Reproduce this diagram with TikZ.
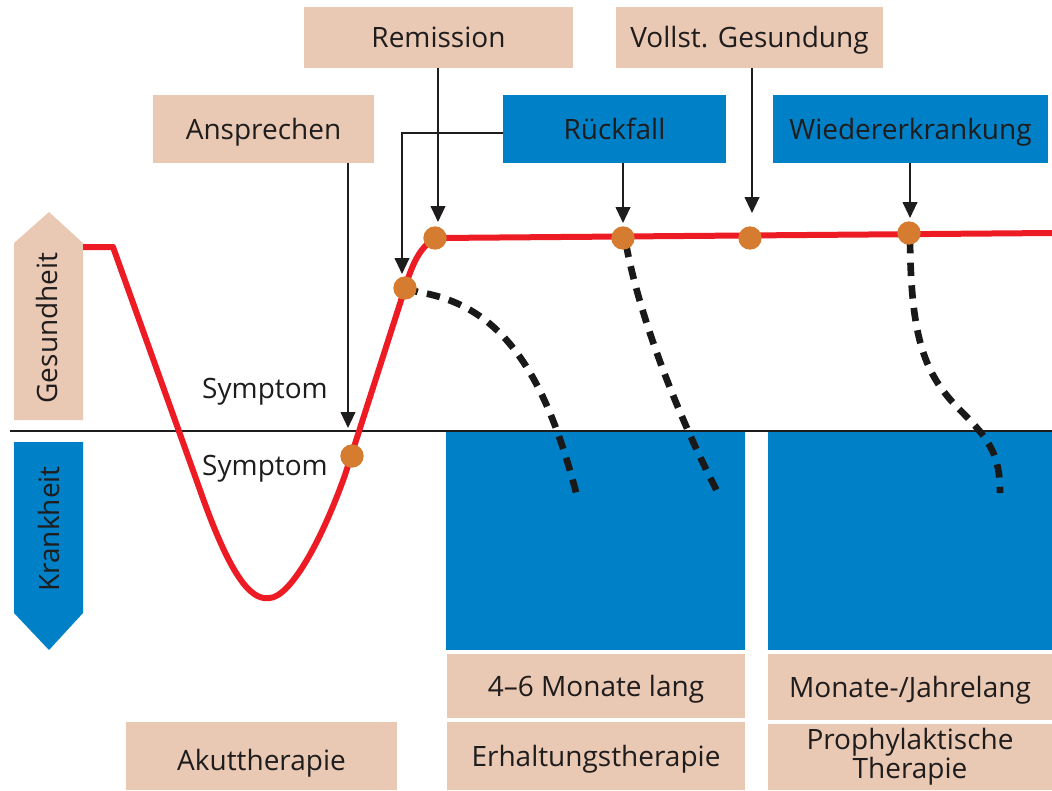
\documentclass[tikz,border=0pt]{standalone}
\usepackage{fontspec}
\setmainfont{Open Sans}
\usetikzlibrary{arrows.meta}
\definecolor{beige}{RGB}{234,201,180}
\definecolor{bblue}{RGB}{0,128,198}
\definecolor{cred}{RGB}{237,28,36}
\definecolor{dotor}{RGB}{214,124,48}
\definecolor{txt}{RGB}{30,28,28}
\tikzset{
  lbl/.style={font=\fontsize{21}{23}\selectfont, text=txt, inner sep=0pt},
  boxtxt/.style={lbl, text height=17.5pt, text depth=2.5pt},
  beigebox/.style={boxtxt, fill=beige, draw=none},
  bluebox/.style={boxtxt, fill=bblue, draw=none},
  arr/.style={draw=txt, line width=1.5pt, -{Triangle[length=12pt,width=11pt]}},
  redline/.style={draw=cred, line width=4.5pt, line join=round},
  dashline/.style={draw=black!90, line width=5pt, dash pattern=on 10pt off 7pt},
  hdot/.style={circle, fill=dotor, minimum size=17.5pt, inner sep=0pt},
}
\begin{document}
\begin{tikzpicture}[x=0.75pt,y=-0.75pt]
\useasboundingbox (0,0) rectangle (1052,790);

% side arrows
\fill[beige] (14,420) -- (14,243) -- (49,212) -- (83,243) -- (83,420) -- cycle;
\fill[bblue] (14,442) -- (83,442) -- (83,613) -- (49,650) -- (14,613) -- cycle;
\node[lbl, rotate=90] (ges) at (47,328) {Gesundheit};
\node[lbl, rotate=90] (kra) at (49,529) {Krankheit};

% blue therapy areas
\fill[bblue] (446,431) rectangle (745,650);
\fill[bblue] (768,431) rectangle (1052,650);

% baseline
\coordinate (bl0) at (10,431);
\coordinate (bl1) at (1052,431);
\draw[txt, line width=1.8pt] (bl0) -- (bl1);

% top boxes
\node[beigebox, minimum width=201.75pt, minimum height=45.75pt] (rem) at (438.5,37.5) {Remission};
\node[beigebox, minimum width=200.25pt, minimum height=45.75pt] (voll) at (749.5,37.5) {Vollst. Gesundung};
\node[beigebox, minimum width=165.75pt, minimum height=51pt] (ansp) at (263.5,129) {Ansprechen};
\node[bluebox, minimum width=167.25pt, minimum height=51pt] (rueck) at (614.5,129) {Rückfall};
\node[bluebox, minimum width=206.25pt, minimum height=51pt] (wied) at (910.5,129) {Wiedererkrankung};

% bottom boxes
\node[beigebox, minimum width=203.25pt, minimum height=51pt] (akut) at (261.5,756) {\raisebox{-3pt}{Akuttherapie}};
\node[beigebox, minimum width=223.5pt, minimum height=48pt] (mon) at (596,686) {4–6 Monate lang};
\node[beigebox, minimum width=223.5pt, minimum height=51pt] (erh) at (596,756) {Erhaltungstherapie};
\node[beigebox, minimum width=213pt, minimum height=49.5pt] (monj) at (910,687) {Monate-/Jahrelang};
\node[lbl, fill=beige, minimum width=213pt, minimum height=49.5pt, align=center] (pro) at (910,757) {Prophylaktische\\[-1pt]Therapie};

% symptom labels
\node[lbl] (sym1) at (265,392) {Symptom};
\node[lbl] (sym2) at (265,469) {Symptom};

% dashed relapse curves
\draw[dashline] (405,288) -- (418,292) .. controls (500,305) and (545,370) .. (578,500);
\draw[dashline] (626,244) .. controls (640,320) and (680,420) .. (718,493);
\draw[dashline] (910,240) .. controls (911,340) and (925,375) .. (960,410) .. controls (990,440) and (1000,455) .. (1000,493);

% red health curve
\draw[redline] (83,247) -- (113,247) -- (200,490) .. controls (235,590) and (255,600) .. (270,598)
  .. controls (290,596) and (320,545) .. (345,475) -- (405,288)
  .. controls (412,265) and (420,245) .. (437,238) -- (1052,233);

% dots
\node[hdot] (d1) at (352,456) {};
\node[hdot] (d2) at (405,288) {};
\node[hdot] (d3) at (435,238) {};
\node[hdot] (d4) at (623,238) {};
\node[hdot] (d5) at (750,238) {};
\node[hdot] (d6) at (909,233) {};

% arrow tips
\coordinate (tA) at (348,428);
\coordinate (tRem) at (438,222);
\coordinate (tR1) at (402,274);
\coordinate (tR2) at (623,223);
\coordinate (tV) at (752,213);
\coordinate (tW) at (910,218);

% arrows
\draw[arr] (ansp.south -| tA) -- (tA);
\draw[arr] (rem.south -| tRem) -- (tRem);
\draw[arr] ([yshift=-3pt]rueck.west) -| (tR1);
\draw[arr] (rueck.south -| tR2) -- (tR2);
\draw[arr] (voll.south -| tV) -- (tV);
\draw[arr] (wied.south -| tW) -- (tW);
\end{tikzpicture}
\end{document}
